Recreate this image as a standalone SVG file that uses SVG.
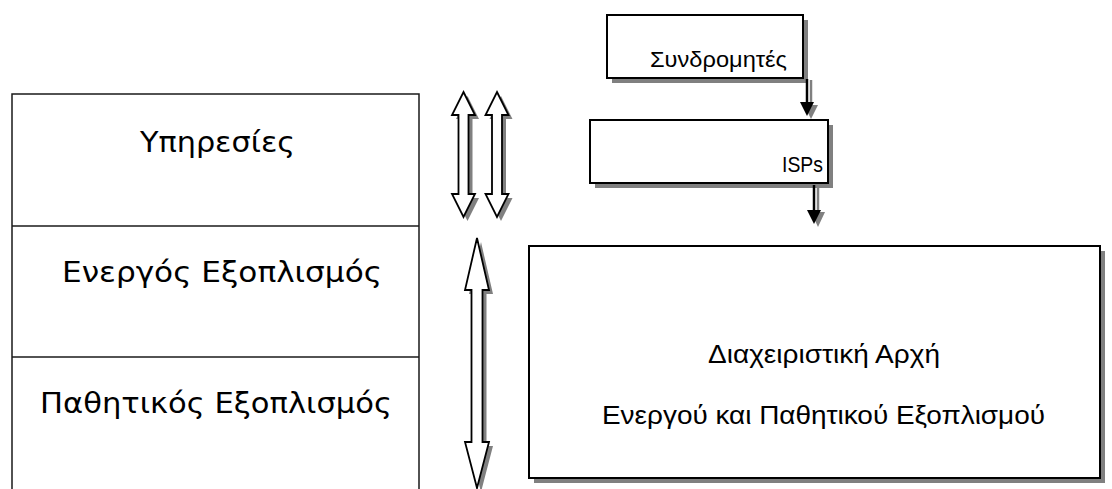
<svg xmlns="http://www.w3.org/2000/svg" width="1112" height="489" viewBox="0 0 1112 489">
<defs>
<style>
.frame{fill:#fff;stroke:#000;stroke-width:2}
.shadow{fill:#808080;stroke:none}
.stack{fill:none;stroke:#1a1a1a;stroke-width:1.5}
.lt{font-family:"DejaVu Sans",Verdana,sans-serif;font-size:28px;fill:#000}
.rt{font-family:"Liberation Sans",Arial,sans-serif;fill:#000}
.hollow{fill:#fff;stroke:#000;stroke-width:1.8;stroke-linejoin:miter}
.shaft{stroke:#000;stroke-width:2.5}
.shaftsh{stroke:#808080;stroke-width:2.5}
</style>
</defs>
<rect width="1112" height="489" fill="#fff"/>

<g id="stack">
<path class="stack" d="M12,489 L12,94 L419,94 L419,489"/>
<line class="stack" x1="12" y1="226" x2="419" y2="226"/>
<line class="stack" x1="12" y1="357" x2="419" y2="357"/>
</g>
<g id="services">
<text class="lt" x="140" y="152" textLength="155" lengthAdjust="spacingAndGlyphs">Υπηρεσίες</text>
</g>
<g id="active">
<text class="lt" x="62" y="282" textLength="320" lengthAdjust="spacingAndGlyphs">Ενεργός Εξοπλισμός</text>
</g>
<g id="passive">
<text class="lt" x="40" y="413" textLength="352" lengthAdjust="spacingAndGlyphs">Παθητικός Εξοπλισμός</text>
</g>

<g id="subscribers">
<rect class="shadow" x="612" y="20" width="196" height="63"/>
<rect class="frame" x="607" y="15" width="196" height="63"/>
<text class="rt" x="650" y="67" font-size="22" textLength="137" lengthAdjust="spacingAndGlyphs">Συνδρομητές</text>
</g>
<g id="isps">
<rect class="shadow" x="595" y="125" width="238" height="63"/>
<rect class="frame" x="590" y="120" width="238" height="63"/>
<text class="rt" x="782" y="172" font-size="22" textLength="41" lengthAdjust="spacingAndGlyphs">ISPs</text>
</g>
<g id="authority">
<rect class="shadow" x="534" y="251" width="571" height="232"/>
<rect class="frame" x="529" y="246" width="571" height="232"/>
<text class="rt" x="708" y="363" font-size="25" textLength="232" lengthAdjust="spacingAndGlyphs">Διαχειριστική Αρχή</text>
<text class="rt" x="602" y="424" font-size="25" textLength="443" lengthAdjust="spacingAndGlyphs">Ενεργού και Παθητικού Εξοπλισμού</text>
</g>

<g id="connectors">
<g id="arrow-pair-left">
<path class="shadow" transform="translate(4,4)" d="M463.5,92 L475,115 L468.5,115 L468.5,194 L475,194 L463.5,217 L452,194 L458.5,194 L458.5,115 L452,115 Z"/>
<path class="hollow" d="M463.5,92 L475,115 L468.5,115 L468.5,194 L475,194 L463.5,217 L452,194 L458.5,194 L458.5,115 L452,115 Z"/>
</g>
<g id="arrow-pair-right">
<path class="shadow" transform="translate(4,4)" d="M497,92 L508.5,115 L502,115 L502,194 L508.5,194 L497,217 L485.5,194 L492,194 L492,115 L485.5,115 Z"/>
<path class="hollow" d="M497,92 L508.5,115 L502,115 L502,194 L508.5,194 L497,217 L485.5,194 L492,194 L492,115 L485.5,115 Z"/>
</g>
<g id="arrow-long">
<path class="shadow" transform="translate(4,4)" d="M477,238 L489,290 L482.5,290 L482.5,442 L489,442 L477,488 L465,442 L471.5,442 L471.5,290 L465,290 Z"/>
<path class="hollow" d="M477,238 L489,290 L482.5,290 L482.5,442 L489,442 L477,488 L465,442 L471.5,442 L471.5,290 L465,290 Z"/>
</g>
<g id="sub-to-isp">
<line class="shaftsh" x1="811" y1="80" x2="811" y2="106"/>
<polygon class="shadow" points="804,105 818,105 811,119"/>
<line class="shaft" x1="807" y1="79" x2="807" y2="103"/>
<polygon points="800,102 814,102 807,116" fill="#000"/>
</g>
<g id="isp-to-authority">
<line class="shaftsh" x1="818" y1="186" x2="818" y2="213"/>
<polygon class="shadow" points="811,212 825,212 818,227"/>
<line class="shaft" x1="814" y1="185" x2="814" y2="211"/>
<polygon points="807,210 821,210 814,224" fill="#000"/>
</g>
</g>
</svg>
